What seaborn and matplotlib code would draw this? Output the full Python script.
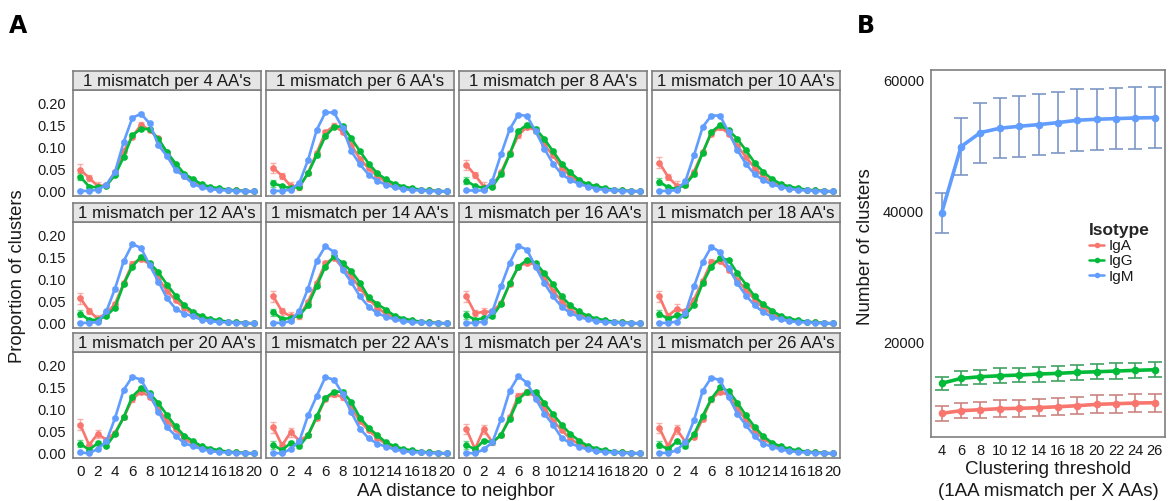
import numpy as np
import pandas as pd
import seaborn as sns
import matplotlib.pyplot as plt
from matplotlib.lines import Line2D

# ---- panel A data: proportion of clusters vs AA distance (x = 0..20) ----
distance = list(range(21))
thresholds = [4, 6, 8, 10, 12, 14, 16, 18, 20, 22, 24, 26]

iga_prop = {
    4:  [0.050, 0.032, 0.013, 0.015, 0.045, 0.093, 0.125, 0.152, 0.140, 0.121, 0.087, 0.057, 0.037, 0.022, 0.014, 0.009, 0.006, 0.004, 0.003, 0.002, 0.001],
    6:  [0.054, 0.036, 0.013, 0.010, 0.043, 0.088, 0.135, 0.150, 0.136, 0.106, 0.075, 0.053, 0.036, 0.022, 0.014, 0.009, 0.006, 0.004, 0.003, 0.002, 0.001],
    8:  [0.061, 0.038, 0.012, 0.013, 0.044, 0.087, 0.128, 0.148, 0.139, 0.106, 0.083, 0.055, 0.036, 0.022, 0.014, 0.009, 0.006, 0.004, 0.003, 0.002, 0.001],
    10: [0.066, 0.034, 0.014, 0.016, 0.046, 0.090, 0.132, 0.147, 0.132, 0.104, 0.079, 0.054, 0.035, 0.022, 0.014, 0.009, 0.006, 0.004, 0.003, 0.002, 0.001],
    12: [0.058, 0.030, 0.011, 0.024, 0.045, 0.092, 0.136, 0.148, 0.135, 0.103, 0.075, 0.053, 0.036, 0.022, 0.014, 0.009, 0.006, 0.004, 0.003, 0.002, 0.001],
    14: [0.062, 0.028, 0.017, 0.017, 0.050, 0.093, 0.137, 0.150, 0.127, 0.108, 0.081, 0.056, 0.037, 0.022, 0.014, 0.009, 0.006, 0.004, 0.003, 0.002, 0.001],
    16: [0.062, 0.024, 0.027, 0.028, 0.047, 0.090, 0.130, 0.139, 0.134, 0.105, 0.074, 0.052, 0.032, 0.021, 0.014, 0.009, 0.006, 0.004, 0.003, 0.002, 0.001],
    18: [0.062, 0.018, 0.034, 0.028, 0.055, 0.097, 0.140, 0.143, 0.123, 0.100, 0.077, 0.055, 0.036, 0.022, 0.014, 0.009, 0.006, 0.004, 0.003, 0.002, 0.001],
    20: [0.066, 0.020, 0.045, 0.032, 0.048, 0.083, 0.124, 0.141, 0.130, 0.101, 0.075, 0.056, 0.035, 0.022, 0.014, 0.009, 0.006, 0.004, 0.003, 0.002, 0.001],
    22: [0.060, 0.019, 0.049, 0.030, 0.042, 0.082, 0.125, 0.136, 0.128, 0.104, 0.074, 0.053, 0.036, 0.022, 0.014, 0.009, 0.006, 0.004, 0.003, 0.002, 0.001],
    24: [0.056, 0.011, 0.056, 0.026, 0.042, 0.083, 0.132, 0.140, 0.130, 0.104, 0.075, 0.054, 0.034, 0.022, 0.014, 0.009, 0.006, 0.004, 0.003, 0.002, 0.001],
    26: [0.059, 0.017, 0.056, 0.027, 0.038, 0.080, 0.124, 0.141, 0.133, 0.104, 0.076, 0.053, 0.034, 0.022, 0.014, 0.009, 0.006, 0.004, 0.003, 0.002, 0.001],
}
igg_prop = {
    4:  [0.034, 0.012, 0.010, 0.014, 0.038, 0.079, 0.128, 0.143, 0.142, 0.120, 0.090, 0.064, 0.041, 0.029, 0.017, 0.011, 0.008, 0.005, 0.003, 0.002, 0.001],
    6:  [0.019, 0.013, 0.008, 0.012, 0.042, 0.083, 0.126, 0.147, 0.149, 0.121, 0.092, 0.064, 0.042, 0.028, 0.018, 0.012, 0.008, 0.005, 0.003, 0.002, 0.001],
    8:  [0.025, 0.013, 0.009, 0.012, 0.040, 0.085, 0.138, 0.152, 0.143, 0.120, 0.092, 0.064, 0.044, 0.027, 0.017, 0.013, 0.008, 0.005, 0.003, 0.002, 0.001],
    10: [0.023, 0.010, 0.007, 0.016, 0.040, 0.088, 0.136, 0.151, 0.140, 0.120, 0.094, 0.066, 0.045, 0.029, 0.018, 0.012, 0.008, 0.005, 0.003, 0.002, 0.001],
    12: [0.023, 0.009, 0.009, 0.018, 0.037, 0.090, 0.130, 0.152, 0.138, 0.117, 0.089, 0.064, 0.042, 0.027, 0.017, 0.011, 0.008, 0.005, 0.003, 0.002, 0.001],
    14: [0.026, 0.011, 0.013, 0.019, 0.042, 0.086, 0.130, 0.153, 0.138, 0.119, 0.093, 0.060, 0.045, 0.032, 0.018, 0.012, 0.008, 0.005, 0.003, 0.002, 0.001],
    16: [0.020, 0.009, 0.013, 0.017, 0.045, 0.092, 0.130, 0.145, 0.138, 0.115, 0.090, 0.062, 0.042, 0.028, 0.018, 0.012, 0.008, 0.005, 0.003, 0.002, 0.001],
    18: [0.023, 0.011, 0.019, 0.020, 0.043, 0.092, 0.130, 0.149, 0.145, 0.115, 0.089, 0.062, 0.044, 0.030, 0.018, 0.012, 0.008, 0.005, 0.003, 0.002, 0.001],
    20: [0.023, 0.009, 0.024, 0.018, 0.045, 0.083, 0.130, 0.149, 0.137, 0.115, 0.088, 0.062, 0.041, 0.029, 0.017, 0.012, 0.008, 0.005, 0.003, 0.002, 0.001],
    22: [0.020, 0.008, 0.025, 0.017, 0.042, 0.085, 0.127, 0.141, 0.141, 0.117, 0.082, 0.059, 0.042, 0.026, 0.017, 0.011, 0.008, 0.005, 0.003, 0.002, 0.001],
    24: [0.020, 0.010, 0.030, 0.026, 0.043, 0.079, 0.123, 0.141, 0.141, 0.115, 0.090, 0.066, 0.045, 0.030, 0.018, 0.012, 0.008, 0.005, 0.003, 0.002, 0.001],
    26: [0.021, 0.010, 0.028, 0.017, 0.044, 0.086, 0.125, 0.151, 0.142, 0.116, 0.087, 0.061, 0.040, 0.025, 0.017, 0.011, 0.008, 0.005, 0.003, 0.002, 0.001],
}
igm_prop = {
    4:  [0.002, 0.002, 0.005, 0.016, 0.045, 0.113, 0.168, 0.177, 0.155, 0.106, 0.081, 0.049, 0.035, 0.018, 0.010, 0.006, 0.004, 0.003, 0.002, 0.001, 0.001],
    6:  [0.002, 0.002, 0.005, 0.020, 0.072, 0.140, 0.180, 0.180, 0.145, 0.092, 0.062, 0.039, 0.025, 0.016, 0.010, 0.006, 0.004, 0.003, 0.002, 0.001, 0.001],
    8:  [0.003, 0.003, 0.003, 0.025, 0.085, 0.142, 0.175, 0.172, 0.137, 0.098, 0.064, 0.040, 0.027, 0.018, 0.012, 0.007, 0.004, 0.003, 0.002, 0.001, 0.001],
    10: [0.002, 0.002, 0.004, 0.024, 0.083, 0.147, 0.173, 0.173, 0.135, 0.095, 0.063, 0.040, 0.026, 0.017, 0.011, 0.007, 0.004, 0.003, 0.002, 0.001, 0.001],
    12: [0.002, 0.002, 0.004, 0.028, 0.080, 0.142, 0.181, 0.172, 0.133, 0.096, 0.058, 0.034, 0.023, 0.017, 0.009, 0.006, 0.004, 0.003, 0.002, 0.001, 0.001],
    14: [0.002, 0.002, 0.006, 0.030, 0.080, 0.143, 0.176, 0.163, 0.123, 0.094, 0.062, 0.039, 0.024, 0.016, 0.010, 0.006, 0.004, 0.003, 0.002, 0.001, 0.001],
    16: [0.002, 0.002, 0.005, 0.028, 0.085, 0.138, 0.177, 0.168, 0.129, 0.092, 0.062, 0.039, 0.024, 0.016, 0.010, 0.006, 0.004, 0.003, 0.002, 0.001, 0.001],
    18: [0.002, 0.002, 0.005, 0.024, 0.085, 0.140, 0.175, 0.163, 0.127, 0.092, 0.064, 0.042, 0.026, 0.016, 0.010, 0.006, 0.004, 0.003, 0.002, 0.001, 0.001],
    20: [0.003, 0.001, 0.011, 0.028, 0.081, 0.145, 0.175, 0.168, 0.134, 0.096, 0.060, 0.041, 0.024, 0.017, 0.011, 0.006, 0.004, 0.003, 0.002, 0.001, 0.001],
    22: [0.002, 0.001, 0.011, 0.029, 0.087, 0.131, 0.174, 0.168, 0.136, 0.094, 0.057, 0.035, 0.023, 0.016, 0.010, 0.006, 0.004, 0.003, 0.002, 0.001, 0.001],
    24: [0.002, 0.001, 0.010, 0.026, 0.079, 0.143, 0.176, 0.161, 0.125, 0.091, 0.066, 0.036, 0.024, 0.016, 0.010, 0.006, 0.004, 0.003, 0.002, 0.001, 0.001],
    26: [0.002, 0.002, 0.008, 0.027, 0.076, 0.143, 0.173, 0.167, 0.129, 0.091, 0.065, 0.040, 0.023, 0.016, 0.010, 0.006, 0.004, 0.003, 0.002, 0.001, 0.001],
}
# approximate error bar half-widths per distance (same in every facet)
iga_err = [0.012, 0.007, 0.010, 0.005, 0.004, 0.005, 0.006, 0.006, 0.005, 0.004, 0.003, 0.003, 0.002, 0.002, 0.001, 0.001, 0.001, 0.001, 0.001, 0.001, 0.001]
igg_err = [0.008, 0.003, 0.004, 0.003, 0.003, 0.003, 0.003, 0.003, 0.003, 0.003, 0.002, 0.002, 0.002, 0.001, 0.001, 0.001, 0.001, 0.001, 0.001, 0.001, 0.001]
igm_err = [0.001, 0.001, 0.002, 0.002, 0.003, 0.003, 0.003, 0.003, 0.003, 0.002, 0.002, 0.002, 0.001, 0.001, 0.001, 0.001, 0.001, 0.001, 0.001, 0.001, 0.001]

# ---- panel B data: number of clusters vs clustering threshold ----
cluster_threshold = [4, 6, 8, 10, 12, 14, 16, 18, 20, 22, 24, 26]
iga_clusters = [9160, 9560, 9710, 9870, 9920, 10020, 10170, 10320, 10530, 10630, 10730, 10780]
igg_clusters = [13740, 14500, 14750, 14900, 15010, 15160, 15270, 15420, 15510, 15620, 15730, 15820]
igm_clusters = [39800, 49920, 52060, 52730, 53030, 53280, 53590, 53950, 54100, 54200, 54300, 54350]
iga_sd = [1120, 1180, 1220, 1260, 1280, 1300, 1320, 1340, 1360, 1380, 1390, 1400]
igg_sd = [1000, 1070, 1100, 1120, 1130, 1140, 1150, 1160, 1170, 1170, 1180, 1180]
igm_sd = [3100, 4300, 4600, 4600, 4650, 4700, 4650, 4700, 4700, 4700, 4700, 4700]

isotypes = ["IgA", "IgG", "IgM"]
colors = {"IgA": "#F8766D", "IgG": "#00BA38", "IgM": "#619CFF"}
err_colors = {"IgA": "#c98582", "IgG": "#3fa160", "IgM": "#7d97c6"}

# long tables
rows = []
for t in thresholds:
    for iso, prop, err in [("IgA", iga_prop, iga_err), ("IgG", igg_prop, igg_err), ("IgM", igm_prop, igm_err)]:
        for d, v, e in zip(distance, prop[t], err):
            rows.append({"threshold": t, "isotype": iso, "distance": d, "prop": v, "err": e})
df_a = pd.DataFrame(rows)

df_b = pd.DataFrame({
    "threshold": cluster_threshold * 3,
    "isotype": ["IgA"] * 12 + ["IgG"] * 12 + ["IgM"] * 12,
    "clusters": iga_clusters + igg_clusters + igm_clusters,
    "sd": iga_sd + igg_sd + igm_sd,
})

sns.set_style("white")
plt.rcParams["font.family"] = ["Liberation Sans", "DejaVu Sans"]
TXT = "#1a1a1a"
FRAME = "#7f7f7f"

W, H = 1176, 501
fig = plt.figure(figsize=(W / 100, H / 100), dpi=100)


def px_axes(x0, y0, x1, y1):
    return fig.add_axes([x0 / W, 1 - y1 / H, (x1 - x0) / W, (y1 - y0) / H])


def style_frame(ax):
    for s in ax.spines.values():
        s.set_visible(True)
        s.set_color(FRAME)
        s.set_linewidth(1.2)


col_left = [73, 266, 459, 652]
panel_w = 188
row_top = [90, 222, 352]
panel_h = 106
strip_h = 19

for k, t in enumerate(thresholds):
    r, c = divmod(k, 4)
    x0 = col_left[c]
    y0 = row_top[r]
    ax = px_axes(x0, y0, x0 + panel_w, y0 + panel_h)
    sub = df_a[df_a["threshold"] == t]
    for iso in isotypes:
        s = sub[sub["isotype"] == iso]
        ax.errorbar(s["distance"], s["prop"], yerr=s["err"], fmt="none",
                    ecolor=colors[iso], alpha=0.55, elinewidth=1.0, capsize=2.2, capthick=1.0, zorder=2)
    sns.lineplot(data=sub, x="distance", y="prop", hue="isotype", palette=colors,
                 hue_order=isotypes, marker="o", markersize=4.8, markeredgewidth=0,
                 linewidth=1.9, legend=False, ax=ax, zorder=3)
    ax.set_xlim(-0.85, 20.85)
    ax.set_ylim(-0.0095, 0.231)
    ax.set_xticks(range(0, 21, 2))
    ax.set_yticks([0.0, 0.05, 0.10, 0.15, 0.20])
    ax.set_xlabel("")
    ax.set_ylabel("")
    style_frame(ax)
    ax.tick_params(axis="both", length=3, width=1, color=FRAME, labelsize=10.5, labelcolor=TXT, pad=2)
    if c == 0:
        ax.set_yticklabels(["0.00", "0.05", "0.10", "0.15", "0.20"])
    else:
        ax.tick_params(axis="y", left=False, labelleft=False)
    if r == 2:
        ax.set_xticklabels([str(v) for v in range(0, 21, 2)])
        ax.tick_params(axis="x", labelsize=11)
    else:
        ax.tick_params(axis="x", bottom=False, labelbottom=False)

    # facet strip
    sax = px_axes(x0, y0 - strip_h, x0 + panel_w, y0)
    sax.set_facecolor("#e5e5e5")
    sax.set_xticks([])
    sax.set_yticks([])
    style_frame(sax)
    sax.text(0.5, 0.45, f"1 mismatch per {t} AA's", transform=sax.transAxes,
             ha="center", va="center", fontsize=12.2, color=TXT)

fig.text(18 / W, 1 - 276 / H, "Proportion of clusters", rotation=90, ha="center", va="center",
         fontsize=13.2, color=TXT)
fig.text(456 / W, 1 - 491 / H, "AA distance to neighbor", ha="center", va="center",
         fontsize=13.5, color=TXT)
fig.text(18 / W, 1 - 26 / H, "A", ha="center", va="center", fontsize=17, fontweight="bold",
         family="DejaVu Sans", color="black")
fig.text(866 / W, 1 - 26 / H, "B", ha="center", va="center", fontsize=17, fontweight="bold",
         family="DejaVu Sans", color="black")

# ---- panel B ----
axb = px_axes(931, 70, 1165, 437)
for iso in isotypes:
    s = df_b[df_b["isotype"] == iso]
    axb.errorbar(s["threshold"], s["clusters"], yerr=s["sd"], fmt="none",
                 ecolor=err_colors[iso], elinewidth=1.2, capsize=5, capthick=1.2, zorder=2)
sns.lineplot(data=df_b, x="threshold", y="clusters", hue="isotype", palette=colors,
             hue_order=isotypes, marker="o", markersize=5.5, markeredgewidth=0,
             linewidth=2.6, legend=False, ax=axb, zorder=3)
axb.set_xlim(2.9, 27.05)
axb.set_ylim(5540, 61630)
axb.set_xticks(cluster_threshold)
axb.set_yticks([20000, 40000, 60000])
axb.set_yticklabels(["20000", "40000", "60000"])
axb.set_xlabel("")
axb.set_ylabel("")
style_frame(axb)
axb.tick_params(axis="both", length=3, width=1, color=FRAME, labelsize=10.5, labelcolor=TXT, pad=2)

fig.text(1048 / W, 1 - 470 / H, "Clustering threshold", ha="center", va="center",
         fontsize=13.5, color=TXT)
fig.text(1048 / W, 1 - 492 / H, "(1AA mismatch per X AAs)", ha="center", va="center",
         fontsize=13.5, color=TXT)
fig.text(866 / W, 1 - 247 / H, "Number of clusters", rotation=90, ha="center", va="center",
         fontsize=13.5, color=TXT)

handles = [Line2D([], [], color=colors[i], marker="o", markersize=4, linewidth=1.8,
                  markeredgewidth=0) for i in isotypes]
leg = fig.legend(handles, isotypes, title="Isotype", loc="upper left",
                 bbox_to_anchor=(1089 / W, 1 - 223 / H), frameon=False, fontsize=11,
                 title_fontsize=12.5, handlelength=1.0, handletextpad=0.3, labelspacing=0.08,
                 borderpad=0.0, borderaxespad=0.0, alignment="left")
leg.get_title().set_fontweight("bold")
for txt in leg.get_texts():
    txt.set_color(TXT)

fig.savefig("out.png", dpi=100)
